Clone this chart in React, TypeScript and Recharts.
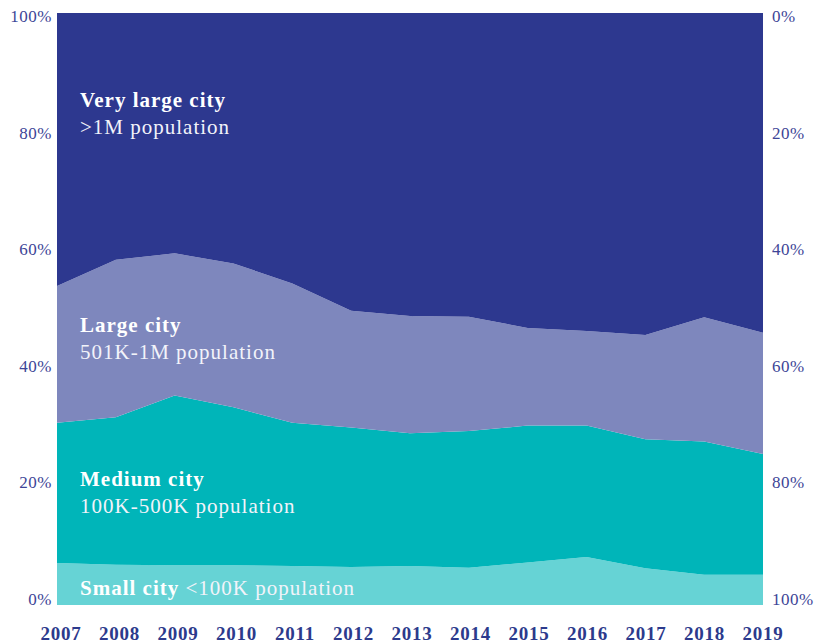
import React from 'react';
import { AreaChart, Area, XAxis, YAxis } from 'recharts';

const years = ['2007', '2008', '2009', '2010', '2011', '2012', '2013', '2014', '2015', '2016', '2017', '2018', '2019'];
const small = [7.1, 6.8, 6.7, 6.7, 6.6, 6.4, 6.6, 6.3, 7.2, 8.1, 6.2, 5.1, 5.1];
const medium = [23.7, 24.9, 28.7, 26.7, 24.2, 23.6, 22.4, 23.1, 23.1, 22.2, 21.8, 22.5, 20.4];
const large = [23.1, 26.6, 24.0, 24.3, 23.5, 19.7, 19.8, 19.3, 16.5, 16.0, 17.6, 21.0, 20.5];
const veryLarge = [46.1, 41.7, 40.6, 42.3, 45.7, 50.3, 51.2, 51.3, 53.2, 53.7, 54.4, 51.4, 54.0];
const pctTicks = [0, 20, 40, 60, 80, 100];

const data = years.map((y, i) => ({
  year: y,
  small: small[i],
  medium: medium[i],
  large: large[i],
  veryLarge: veryLarge[i],
}));

const FONT = '"Liberation Serif", serif';
const TICK_COLOR = '#3d4597';
const YEAR_COLOR = '#2c3a8c';

// Renders the left label and the mirrored right label (0% at top, 100% at bottom)
const PctTick = (props: any) => {
  const { y, payload } = props;
  const v = payload.value;
  const dy = -5.5 + 9.2 * (v / 100);
  return (
    <g>
      <text x={52} y={y + dy} textAnchor="end" dominantBaseline="central" fill={TICK_COLOR} fontFamily={FONT} fontSize={17} letterSpacing={0.5}>
        {`${v}%`}
      </text>
      <text x={772} y={y + dy} textAnchor="start" dominantBaseline="central" fill={TICK_COLOR} fontFamily={FONT} fontSize={17} letterSpacing={0.5}>
        {`${100 - v}%`}
      </text>
    </g>
  );
};

const YearTick = (props: any) => {
  const { x, payload, index } = props;
  const dx = 4 * (1 - (index ?? 0) / 12);
  return (
    <text x={x + dx} y={633} textAnchor="middle" dominantBaseline="central" fill={YEAR_COLOR} fontFamily={FONT} fontWeight="bold" fontSize={19} letterSpacing={0.8}>
      {payload.value}
    </text>
  );
};

export default function App() {
  const boldStyle = { fontFamily: FONT, fontWeight: 'bold' as const, fontSize: 21, letterSpacing: 1, fill: '#ffffff' };
  const regStyle = { fontFamily: FONT, fontSize: 21, letterSpacing: 1, fill: '#f2f3fa' };
  return (
    <div style={{ position: 'absolute', left: 0, top: 0, width: 830, height: 642, background: '#ffffff' }}>
      <AreaChart width={830} height={642} data={data} margin={{ top: 13, right: 67, bottom: 0, left: 0 }}>
        <XAxis dataKey="year" height={37} axisLine={false} tickLine={false} tick={<YearTick />} interval={0} padding={{ left: 0, right: 0 }} />
        <YAxis orientation="left" width={57} domain={[0, 100]} ticks={pctTicks} axisLine={false} tickLine={false} tick={<PctTick />} interval={0} />
        <Area type="linear" dataKey="small" stackId="1" stroke="none" fill="#66d3d5" fillOpacity={1} isAnimationActive={false} />
        <Area type="linear" dataKey="medium" stackId="1" stroke="none" fill="#00b5b9" fillOpacity={1} isAnimationActive={false} />
        <Area type="linear" dataKey="large" stackId="1" stroke="none" fill="#7e87bd" fillOpacity={1} isAnimationActive={false} />
        <Area type="linear" dataKey="veryLarge" stackId="1" stroke="none" fill="#2d388f" fillOpacity={1} isAnimationActive={false} />
      </AreaChart>
      <svg width={830} height={642} style={{ position: 'absolute', left: 0, top: 0, pointerEvents: 'none' }}>
        <text x={80} y={107} {...boldStyle}>Very large city</text>
        <text x={80} y={134} {...regStyle}>{'>1M population'}</text>
        <text x={80} y={332} {...boldStyle}>Large city</text>
        <text x={80} y={359} {...regStyle}>501K-1M population</text>
        <text x={80} y={486} {...boldStyle}>Medium city</text>
        <text x={80} y={513} {...regStyle}>100K-500K population</text>
        <text x={80} y={595}>
          <tspan {...boldStyle}>Small city</tspan>
          <tspan {...regStyle}>{' <100K population'}</tspan>
        </text>
      </svg>
    </div>
  );
}
